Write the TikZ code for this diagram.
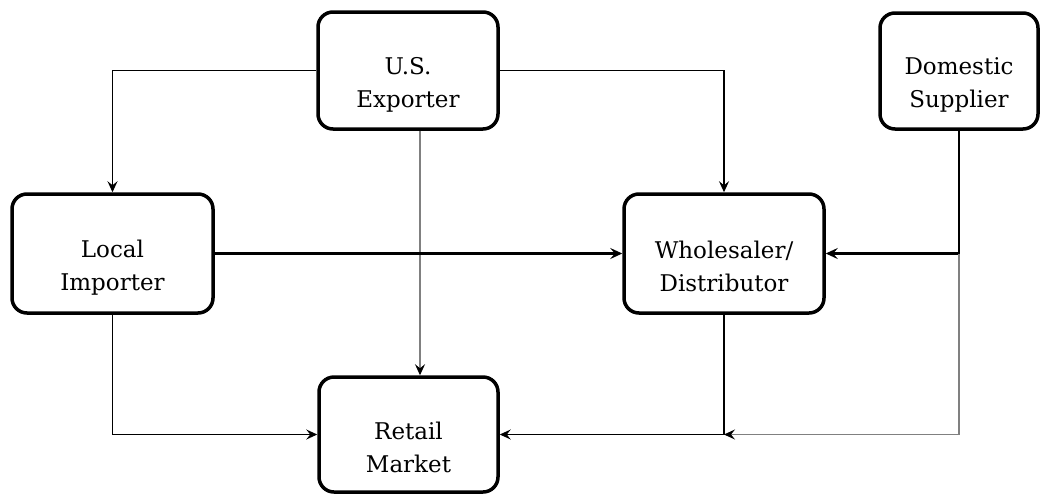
\documentclass[tikz,border=0pt]{standalone}
\usepackage{fontspec}
\setmainfont{DejaVu Serif}
\usetikzlibrary{arrows.meta}
\tikzset{
  box/.style={draw=black, line width=3.5pt, rounded corners=15pt, fill=white, inner sep=0pt},
  lbl/.style={align=center, font=\fontsize{23}{33}\selectfont, inner sep=0pt},
  thinline/.style={draw=black, line width=1.3pt},
  thinarrow/.style={thinline, -{Stealth[length=11pt,width=10pt,inset=4pt]}},
  thickarrow/.style={draw=black, line width=2.4pt, -{Stealth[length=12pt,width=11pt,inset=4.5pt]}},
  grayline/.style={draw=black!50, line width=1.1pt},
  grayarrow/.style={grayline, -{Stealth[length=11pt,width=10pt,inset=4pt,black]}},
}
\begin{document}
\begin{tikzpicture}[x=1pt,y=-1pt]
\useasboundingbox (0,0) rectangle (1046,496);
\node[box, minimum width=180pt, minimum height=117pt] (exp) at (408,70.5) {};
\node[box, minimum width=158pt, minimum height=116pt] (dom) at (959,71) {};
\node[box, minimum width=201pt, minimum height=119pt] (li) at (112.5,253.5) {};
\node[box, minimum width=200pt, minimum height=119pt] (ws) at (724,253.5) {};
\node[box, minimum width=179pt, minimum height=115pt] (rm) at (408.5,434.5) {};

\node[lbl] (texp) at ([yshift=-14pt]exp.center) {U.S.\\Exporter};
\node[lbl] (tdom) at ([yshift=-14pt]dom.center) {Domestic\\Supplier};
\node[lbl] (tli) at ([yshift=-14pt]li.center) {Local\\Importer};
\node[lbl] (tws) at ([yshift=-13pt]ws.center) {Wholesaler/\\Distributor};
\node[lbl] (trm) at ([yshift=-13pt]rm.center) {Retail\\Market};

\coordinate (j) at (dom.south |- ws.east);
\coordinate (m) at (ws.south |- rm.east);

\draw[thinarrow] (exp.west) -| (li.north);
\draw[thinarrow] (exp.east) -| (ws.north);
\draw[grayarrow] ([xshift=12pt]exp.south) -- ([xshift=12pt]exp.south |- rm.north);
\draw[thickarrow] (li.east) -- (ws.west);
\draw[thinline] (dom.south) -- (j);
\draw[thickarrow] (j) -- (ws.east);
\draw[grayarrow] (j) |- (m);
\draw[thinarrow] (ws.south) |- (rm.east);
\draw[thinarrow] (li.south) |- (rm.west);
\end{tikzpicture}
\end{document}
